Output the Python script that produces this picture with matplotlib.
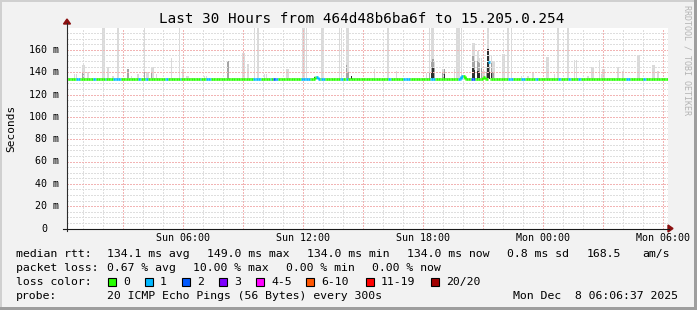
import numpy as np
import matplotlib
matplotlib.use('Agg')
import matplotlib.pyplot as plt
from matplotlib.collections import LineCollection
from matplotlib.patches import Rectangle, Polygon
from matplotlib.transforms import Affine2D

W, H = 697, 310

# ---- values ----
# time axis in hours since Sun 00:00, values in ms
x_ticks = [6, 12, 18, 24, 30]
x_labels = ['Sun 06:00', 'Sun 12:00', 'Sun 18:00', 'Mon 00:00', 'Mon 06:00']
y_ticks = [0, 20, 40, 60, 80, 100, 120, 140, 160]
y_labels = ['0', '20 m', '40 m', '60 m', '80 m', '100 m', '120 m', '140 m', '160 m']

median_base = 134.0
median_t = [12.58, 12.67, 19.92, 20.0, 21.0, 21.25]
median_v = [135.3, 135.3, 136.2, 136.2, 135.5, 149.0]

# packet loss periods (start h, end h, lost pings of 20)
loss_start = [0.65, 1.5, 2.05, 2.5, 3.75, 4.05, 5.1, 5.8, 6.8, 7.15, 9.5, 10.3, 10.5, 10.7,
              11.9, 12.7, 12.9, 13.8, 14.15, 16.25, 17.0, 18.3, 19.75, 20.4, 21.25, 22.25,
              22.95, 23.6, 24.75, 25.25, 25.75, 28.15, 29.0]
loss_end = [0.8, 1.7, 2.15, 2.9, 3.95, 4.25, 5.25, 5.95, 6.95, 7.4, 9.95, 10.45, 10.65, 10.75,
            12.3, 12.8, 13.05, 14.0, 14.25, 16.4, 17.3, 18.55, 20.0, 20.55, 21.3, 22.5,
            23.05, 23.75, 24.9, 25.4, 25.9, 28.3, 29.15]
loss_n = [1, 1, 1, 1, 1, 1, 1, 1, 1, 1, 1, 1, 2, 1,
          1, 1, 1, 1, 1, 1, 1, 1, 1, 2, 1, 1,
          1, 1, 1, 1, 1, 1, 1]

# smoke: highest ping (light), inner band (mid gray), core (dark); 0 = none
smoke_t = [0.58, 0.67, 1.0, 1.08, 1.25, 2.0, 2.08, 2.25, 2.5, 2.75, 3.25, 3.42, 3.75, 4.08,
           4.17, 4.25, 4.42, 4.5, 4.67, 5.42, 5.83, 6.0, 6.17, 6.25, 7.08, 7.17, 8.25, 9.0,
           9.08, 9.25, 9.58, 9.75, 10.08, 10.17, 11.17, 11.25, 12.0, 12.08, 12.17, 12.58,
           12.92, 13.0, 13.83, 13.92, 14.17, 14.25, 14.42, 15.58, 16.25, 16.67, 18.17, 18.33,
           18.42, 18.5, 18.58, 19.0, 19.08, 19.58, 19.67, 19.75, 19.83, 19.92, 20.5, 20.58,
           20.75, 20.83, 20.92, 21.0, 21.08, 21.17, 21.25, 21.33, 21.42, 21.5, 21.58, 22.0,
           22.08, 22.25, 22.42, 22.92, 23.25, 23.5, 24.17, 24.25, 24.58, 24.75, 25.25, 25.58,
           25.67, 26.25, 26.42, 26.5, 26.83, 26.92, 27.0, 27.08, 27.75, 28.0, 28.75, 28.83,
           29.5, 29.58, 29.75]
smoke_hi = [138.5, 138.5, 146, 146, 140, 185, 185, 145, 137, 185, 143, 136.5, 138, 185,
            140, 140, 145, 145, 138.5, 153, 185, 143, 137, 137, 136.5, 136.5, 150, 157,
            157, 147, 185, 185, 138, 138, 142.5, 142.5, 185, 185, 185, 136.5,
            185, 185, 185, 185, 185, 185, 136.5, 142.5, 185, 141, 139, 185,
            185, 185, 150, 143, 143, 142.5, 185, 185, 185, 185, 166, 166,
            159, 153, 153, 141, 141, 145, 185, 155, 155, 150, 150, 156,
            156, 185, 185, 137, 137, 140, 154, 154, 138, 185, 185, 151,
            151, 137, 145, 145, 151, 138, 143, 143, 145, 141, 155, 155,
            146, 146, 141]
smoke_mid = [0, 0, 140, 0, 0, 0, 0, 0, 0, 0, 143, 0, 0, 140,
             0, 0, 139, 0, 0, 0, 0, 0, 0, 0, 0, 0, 150, 0,
             0, 0, 0, 0, 0, 0, 0, 0, 0, 0, 0, 0,
             0, 0, 0, 0, 146, 140, 0, 0, 0, 0, 0, 139,
             149, 152, 145, 140, 142.5, 0, 0, 0, 0, 0, 155, 150,
             150, 148, 145, 0, 0, 140, 161, 145, 148, 140, 0, 0,
             0, 0, 0, 0, 0, 0, 0, 0, 0, 0, 0, 0,
             0, 0, 0, 0, 0, 0, 0, 0, 0, 0, 0, 0,
             0, 0, 0]
smoke_lo = [0, 0, 0, 0, 0, 0, 0, 0, 0, 0, 0, 0, 0, 0,
            0, 0, 0, 0, 0, 0, 0, 0, 0, 0, 0, 0, 0, 0,
            0, 0, 0, 0, 0, 0, 0, 0, 0, 0, 0, 136,
            0, 0, 0, 0, 0, 0, 136.5, 0, 0, 0, 0, 0,
            140, 144, 0, 0, 138, 0, 0, 0, 0, 0, 145, 142,
            141, 140, 0, 0, 0, 0, 161, 140, 140, 0, 0, 0,
            0, 0, 0, 0, 0, 0, 0, 0, 0, 0, 0, 0,
            0, 0, 0, 0, 0, 0, 0, 0, 0, 0, 0, 0,
            0, 0, 0]

loss_colors = {0: '#26ff00', 1: '#00b8ff', 2: '#0059ff', 3: '#7e00ff',
               5: '#ff00ff', 10: '#ff5500', 19: '#ff0000', 20: '#a10000'}
legend_names = ['0', '1', '2', '3', '4-5', '6-10', '11-19', '20/20']

# ---- figure ----
fig = plt.figure(figsize=(W / 100, H / 100), dpi=100, facecolor='#f2f2f2')
px = Affine2D().scale(1 / W, -1 / H).translate(0, 1) + fig.transFigure

left, right, top, bottom = 67, 668, 27.5, 228.5
ax = fig.add_axes([left / W, 1 - bottom / H, (right - left) / W, (bottom - top) / H])
ax.set_facecolor('white')
ax.set_xlim(0.2, 30.25)
ax.set_ylim(0, 180)
for s in ax.spines.values():
    s.set_visible(False)

mono = 'DejaVu Sans Mono'

# grid (dotted, 1px on / 1px off)
gkw = dict(lw=0.72, ls=(0, (1.4, 1.4)), antialiased=False, zorder=3)
for h in range(1, 31):
    ax.axvline(h, color='#f2b4b4' if h % 3 == 0 else '#dedede', **gkw)
for v in range(5, 180, 5):
    ax.axhline(v, color='#f2b4b4' if v % 20 == 0 else '#dedede', **gkw)

# smoke
base = 133.6
st = np.array(smoke_t)
hi = np.array(smoke_hi, dtype=float)
mid = np.array(smoke_mid, dtype=float)
lo = np.array(smoke_lo, dtype=float)
dt = 1 / 12
ax.bar(st, hi - base, bottom=base, width=dt, color='#dadada', lw=0, zorder=2)
ax.bar(st, np.where(mid > 0, mid - base, 0), bottom=base, width=dt, color='#a4a4a4', lw=0, zorder=2)
ax.bar(st, np.where(lo > 0, lo - base, 0), bottom=base, width=dt, color='#2e2e2e', lw=0, zorder=2)

# median line coloured by loss
steps = np.arange(0, 30.5, dt)
med = np.full(len(steps), median_base)
for t, v in zip(median_t, median_v):
    med[np.argmin(np.abs(steps - t))] = v
loss = np.zeros(len(steps), dtype=int)
for a, b, n in zip(loss_start, loss_end, loss_n):
    loss[(steps + dt / 2 >= a) & (steps + dt / 2 <= b + 1e-6)] = n


def loss_col(n):
    for k in sorted(loss_colors):
        if n <= k:
            return loss_colors[k]
    return loss_colors[20]


segs, cols = [], []
for i, t in enumerate(steps):
    c = loss_col(loss[i])
    segs.append([(t, med[i]), (t + dt, med[i])])
    cols.append(c)
    # rrdtool only joins points of the same loss colour
    if i > 0 and med[i] != med[i - 1] and loss[i] == loss[i - 1]:
        segs.append([(t, med[i - 1]), (t, med[i])])
        cols.append(c)
ax.add_collection(LineCollection(segs, colors=cols, linewidths=1.9, capstyle='butt', zorder=4))

# ticks
ax.set_xticks(x_ticks, x_labels, fontfamily=mono, fontsize=7.2)
ax.tick_params(axis='x', length=0, pad=3.2)
ax.set_yticks([])
for v, lab in zip(y_ticks, y_labels):
    off = -20 if lab == '0' else -8
    ax.annotate(lab, xy=(0, v), xycoords=('axes fraction', 'data'), xytext=(off, 0),
                textcoords='offset pixels', ha='right', va='center', fontfamily=mono, fontsize=7.2)

# axes with arrows
fig.add_artist(plt.Line2D([67, 67], [230.5, 23], color='#2c2c2c', lw=0.8, transform=px))
fig.add_artist(plt.Line2D([63, 669], [228.5, 228.5], color='#1a1a1a', lw=0.8, transform=px))
fig.add_artist(Polygon([(63.5, 24), (70.5, 24), (67, 19)], closed=True, color='#8b1010', transform=px))
fig.add_artist(Polygon([(668, 225), (668, 232), (673, 228.5)], closed=True, color='#8b1010', transform=px))

# title / labels
fig.text(361.5 / W, 1 - 19 / H, 'Last 30 Hours from 464d48b6ba6f to 15.205.0.254',
         ha='center', va='center', fontfamily=mono, fontsize=10.3)
fig.text(11 / W, 1 - 128 / H, 'Seconds', rotation=90, ha='center', va='center',
         fontfamily=mono, fontsize=8)
fig.text(687 / W, 1 - 5 / H, 'RRDTOOL / TOBI OETIKER', rotation=270, ha='center', va='top',
         fontfamily=mono, fontsize=6, color='#b4b4b4')

# legend
lf = dict(fontfamily=mono, fontsize=8.25, va='center', transform=px)
rows = [
    (254, [(16, 'median rtt:'), (107, '134.1 ms avg'), (207, '149.0 ms max'), (307, '134.0 ms min'),
           (407, '134.0 ms now'), (507, '0.8 ms sd'), (587, '168.5'), (642, 'am/s')]),
    (268, [(16, 'packet loss:'), (107, '0.67 % avg'), (193, '10.00 % max'), (286, '0.00 % min'),
           (372, '0.00 % now')]),
    (282, [(16, 'loss color:')]),
    (296, [(16, 'probe:'), (107, '20 ICMP Echo Pings (56 Bytes) every 300s'),
           (513, 'Mon Dec  8 06:06:37 2025')]),
]
for y, items in rows:
    for x, s in items:
        fig.text(x, y, s, **lf)

box_x = [108, 145, 182, 219, 256, 306, 366, 431]
for bx, name, k in zip(box_x, legend_names, sorted(loss_colors)):
    fig.add_artist(Rectangle((bx, 278), 8, 8, facecolor=loss_colors[k], edgecolor='black',
                             lw=0.8, transform=px))
    fig.text(bx + 15, 282, name, **lf)

# frame
fig.add_artist(Rectangle((0, 0), W, 2, facecolor='#d0d0d0', lw=0, transform=px))
fig.add_artist(Rectangle((0, 0), 2, H, facecolor='#d0d0d0', lw=0, transform=px))
fig.add_artist(Rectangle((W - 3, 0), 3, H, facecolor='#9e9e9e', lw=0, transform=px))
fig.add_artist(Rectangle((0, H - 3), W, 3, facecolor='#9e9e9e', lw=0, transform=px))

fig.savefig('out.png', dpi=100, facecolor=fig.get_facecolor())
